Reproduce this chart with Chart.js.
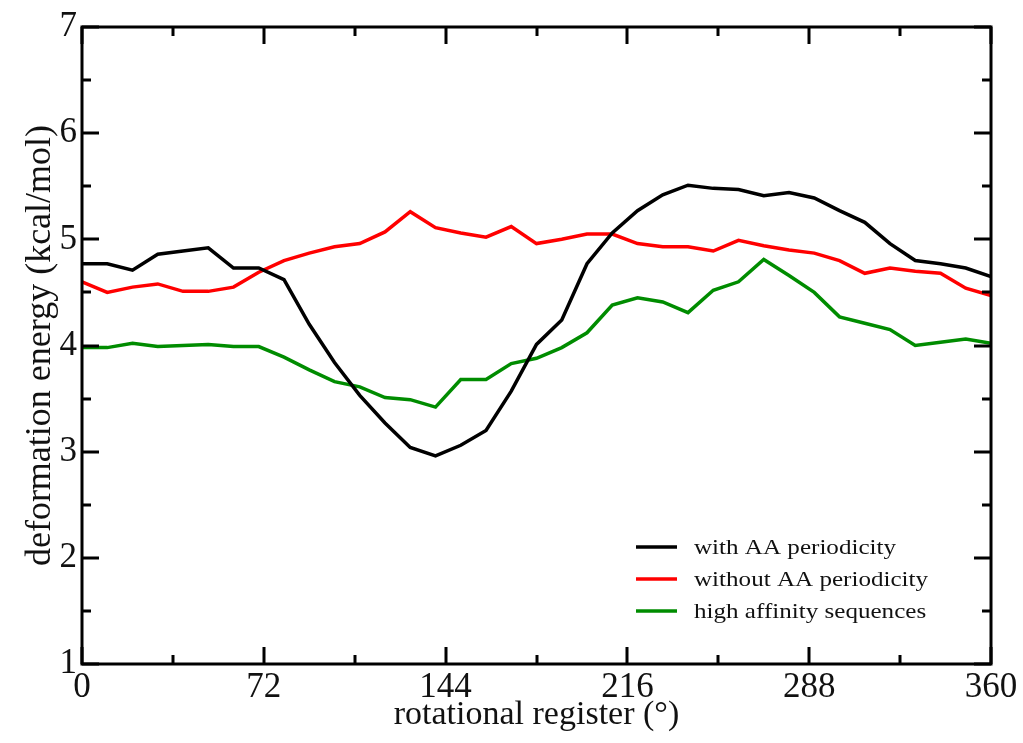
<!DOCTYPE html>
<html>
<head>
<meta charset="utf-8">
<script src="https://cdn.jsdelivr.net/npm/chart.js@4.4.0/dist/chart.umd.min.js"></script>
<style>
    html, body { margin: 0; padding: 0; background: #fff; }
    #wrap { width: 1023px; height: 743px; }
</style>
</head>
<body>
<div id="wrap"><canvas id="energy-canvas"></canvas></div>
<script>
// rotational register, degrees
const registers = [0, 10, 20, 30, 40, 50, 60, 70, 80, 90, 100, 110, 120, 130, 140, 150, 160, 170, 180,
    190, 200, 210, 220, 230, 240, 250, 260, 270, 280, 290, 300, 310, 320, 330, 340, 350, 360];

const withPeriodicity = [4.77, 4.77, 4.71, 4.86, 4.89, 4.92, 4.73, 4.73, 4.62, 4.20, 3.84, 3.53, 3.27,
    3.04, 2.96, 3.06, 3.20, 3.57, 4.01, 4.24, 4.77, 5.06, 5.27, 5.42, 5.51, 5.48, 5.47, 5.41, 5.44,
    5.39, 5.27, 5.16, 4.96, 4.80, 4.77, 4.73, 4.65];

const withoutPeriodicity = [4.60, 4.50, 4.55, 4.58, 4.51, 4.51, 4.55, 4.69, 4.80, 4.87, 4.93, 4.96, 5.07,
    5.26, 5.11, 5.06, 5.02, 5.12, 4.96, 5.00, 5.05, 5.05, 4.96, 4.93, 4.93, 4.89, 4.99, 4.94, 4.90,
    4.87, 4.80, 4.68, 4.73, 4.70, 4.68, 4.54, 4.47];

const highAffinity = [3.98, 3.98, 4.02, 3.99, 4.00, 4.01, 3.99, 3.99, 3.89, 3.77, 3.66, 3.61, 3.51,
    3.49, 3.42, 3.68, 3.68, 3.83, 3.88, 3.98, 4.12, 4.38, 4.45, 4.41, 4.31, 4.52, 4.60, 4.81, 4.66,
    4.50, 4.27, 4.21, 4.15, 4.00, 4.03, 4.06, 4.02];

const seriesLabels = ['with AA periodicity', 'without AA periodicity', 'high affinity sequences'];
const seriesColors = ['#000000', '#ff0000', '#008c00'];

const serif = "'Liberation Serif', 'DejaVu Serif', serif";

const toPoints = (values) => values.map((v, i) => ({ x: registers[i], y: v }));

// frame with inward major/minor ticks on all four sides (xmgrace style)
const framePlugin = {
    id: 'frame',
    afterDraw(chart) {
        const { ctx, chartArea: a, scales: { x, y } } = chart;
        ctx.save();
        ctx.strokeStyle = '#000';
        ctx.lineWidth = 3;
        ctx.beginPath();
        for (let v = 0; v <= 360; v += 36) {
            const px = Math.round(x.getPixelForValue(v));
            const len = (v % 72 === 0) ? 17 : 9;
            ctx.moveTo(px, a.bottom); ctx.lineTo(px, a.bottom - len);
            ctx.moveTo(px, a.top); ctx.lineTo(px, a.top + len);
        }
        for (let v = 1; v <= 7; v += 0.5) {
            const py = Math.round(y.getPixelForValue(v));
            const len = Number.isInteger(v) ? 17 : 9;
            ctx.moveTo(a.left, py); ctx.lineTo(a.left + len, py);
            ctx.moveTo(a.right, py); ctx.lineTo(a.right - len, py);
        }
        ctx.stroke();
        ctx.strokeRect(a.left, a.top, a.right - a.left, a.bottom - a.top);
        ctx.restore();
    }
};

// legend drawn inside the plot, lower right
const insideLegend = {
    id: 'insideLegend',
    afterDraw(chart) {
        const { ctx } = chart;
        ctx.save();
        ctx.textBaseline = 'middle';
        ctx.fillStyle = '#111';
        chart.data.datasets.forEach((ds, i) => {
            const yy = 547 + i * 32;
            ctx.strokeStyle = ds.borderColor;
            ctx.lineWidth = 3.5;
            ctx.beginPath();
            ctx.moveTo(636, yy);
            ctx.lineTo(677, yy);
            ctx.stroke();
            ctx.save();
            ctx.translate(694, yy);
            ctx.scale(1.14, 1);
            ctx.font = `22px ${serif}`;
            ctx.fillText(ds.label, 0, 1);
            ctx.restore();
        });
        ctx.restore();
    }
};

new Chart(document.getElementById('energy-canvas'), {
    type: 'line',
    plugins: [framePlugin, insideLegend],
    data: {
        datasets: [withPeriodicity, withoutPeriodicity, highAffinity].map((values, i) => ({
            label: seriesLabels[i],
            data: toPoints(values),
            borderColor: seriesColors[i],
            backgroundColor: seriesColors[i],
            borderWidth: 3.5,
            pointRadius: 0,
            tension: 0,
            fill: false,
        }))
    },
    options: {
        responsive: true,
        maintainAspectRatio: false,
        animation: false,
        layout: {
            padding: { left: 0, right: 32, top: 27, bottom: 0 }
        },
        plugins: {
            legend: { display: false },
            tooltip: { enabled: false },
        },
        scales: {
            x: {
                type: 'linear',
                min: 0,
                max: 360,
                grid: { display: false, drawTicks: false },
                border: { display: false },
                ticks: {
                    stepSize: 72,
                    padding: 3,
                    color: '#111',
                    font: { family: serif, size: 35 },
                    maxRotation: 0,
                },
                title: {
                    display: true,
                    text: 'rotational register (°)',
                    color: '#111',
                    font: { family: serif, size: 34 },
                    padding: { top: 0, bottom: 8 },
                },
                afterFit: (scale) => { scale.height = 79; },
            },
            y: {
                min: 1,
                max: 7,
                grid: { display: false, drawTicks: false },
                border: { display: false },
                ticks: {
                    stepSize: 1,
                    padding: 5,
                    color: '#111',
                    font: { family: serif, size: 35 },
                },
                title: {
                    display: true,
                    text: 'deformation energy (kcal/mol)',
                    color: '#111',
                    font: { family: serif, size: 36 },
                    padding: { top: 19, bottom: 0 },
                },
                afterFit: (scale) => { scale.width = 82; },
            }
        }
    }
});
</script>
</body>
</html>
